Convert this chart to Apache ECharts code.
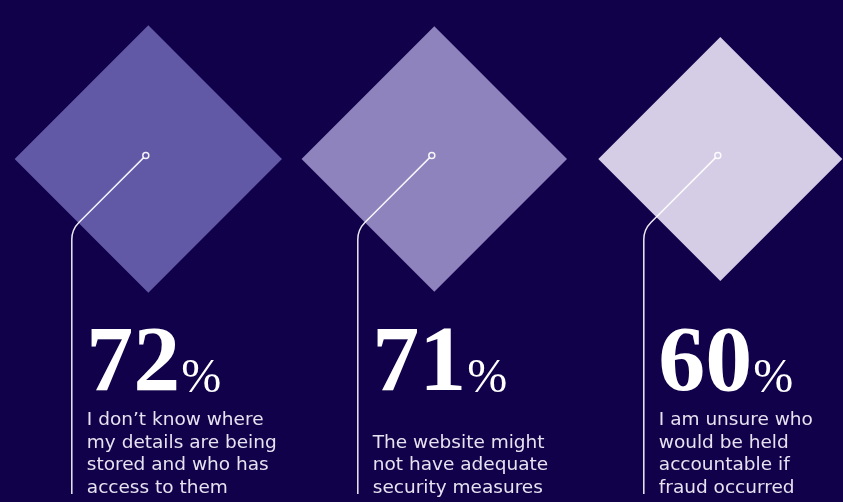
<!DOCTYPE html>
<html>
<head>
<meta charset="utf-8">
<script src="https://cdn.jsdelivr.net/npm/echarts@6/dist/echarts.min.js"></script>
<style>
html,body{margin:0;padding:0;background:#11004a;}
#chart{width:843px;height:502px;}
</style>
</head>
<body>
<div id="chart"></div>
<script>
const categories = ['Where details are stored', 'Security measures', 'Accountability for fraud'];
const values = [72, 71, 60];
const descriptions = [
  'I don\u2019t know where\nmy details are being\nstored and who has\naccess to them',
  'The website might\nnot have adequate\nsecurity measures',
  'I am unsure who\nwould be held\naccountable if\nfraud occurred'
];
const rowCategory = [''];

const diamondColors = ['#6159a6', '#8f83bd', '#d5cde6'];

const chart = echarts.init(document.getElementById('chart'));

const option = {
  backgroundColor: '#11004a',
  animation: false,
  grid: { left: 5.3, right: 0, top: 0, bottom: 184 },
  xAxis: { type: 'value', min: -0.5, max: 2.429, show: false },
  yAxis: { type: 'category', data: rowCategory, show: false },
  series: [
    {
      type: 'scatter',
      name: 'share',
      symbol: 'diamond',
      symbolSize: function (val) { return Math.sqrt(val[2]) * 31.5; },
      data: values.map(function (v, i) {
        return { name: categories[i], value: [i, 0, v], itemStyle: { color: diamondColors[i], opacity: 1 } };
      }),
      silent: true,
      z: 1
    },
    {
      type: 'custom',
      silent: true,
      z: 5,
      data: values.map(function (v, i) { return { name: categories[i], value: [i, 0, v] }; }),
      renderItem: function (params, api) {
        const i = params.dataIndex;
        const c = api.coord([api.value(0), api.value(1)]);
        const cx = c[0] - 2.5;
        const cy = c[1] - 3.5;
        const vx = cx - 74;
        const cornerY = cy + 74;
        const d = 10;
        const k = 0.7071;
        const path = 'M' + (cx - 3 * k) + ' ' + (cy + 3 * k) +
          ' L' + (vx + d * k) + ' ' + (cornerY - d * k) +
          ' Q' + vx + ' ' + cornerY + ' ' + vx + ' ' + (cornerY + d) +
          ' L' + vx + ' 494';
        return {
          type: 'group',
          children: [
            {
              type: 'path',
              shape: { pathData: path },
              style: { stroke: 'rgba(255,255,255,0.92)', lineWidth: 1.5, fill: null }
            },
            {
              type: 'circle',
              shape: { cx: cx, cy: cy, r: 3 },
              style: { stroke: 'rgba(255,255,255,0.92)', lineWidth: 1.5, fill: null }
            },
            {
              type: 'text',
              x: vx + 14.5,
              y: 413,
              style: {
                text: '{n|' + api.value(2) + '}{p|%}',
                verticalAlign: 'bottom',
                align: 'left',
                rich: {
                  n: { fontFamily: 'Liberation Serif', fontWeight: 'bold', fontSize: 94, fill: '#ffffff', verticalAlign: 'bottom' },
                  p: { fontFamily: 'Liberation Serif', fontSize: 48, fill: '#ffffff', verticalAlign: 'bottom', padding: [0, 0, 10, 1] }
                }
              }
            },
            {
              type: 'text',
              x: vx + 15,
              y: 499,
              style: {
                text: descriptions[i],
                fontFamily: 'DejaVu Sans',
                fontSize: 18.5,
                lineHeight: 22.5,
                fill: '#e6e2f0',
                align: 'left',
                verticalAlign: 'bottom'
              }
            }
          ]
        };
      }
    }
  ]
};
chart.setOption(option);
</script>
</body>
</html>
